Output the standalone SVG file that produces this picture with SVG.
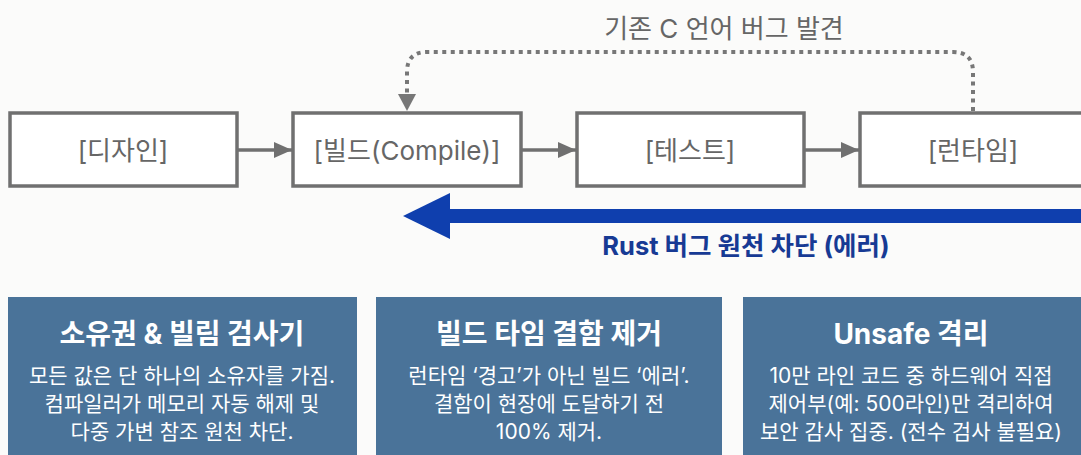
<svg xmlns="http://www.w3.org/2000/svg" width="1081" height="455" viewBox="0 0 1081 455">
<style>
.box{fill:#ffffff;stroke:#707070;stroke-width:3.5}
.lbl{font-family:"Inter","Noto Sans CJK KR",sans-serif;font-size:26px;fill:#666666;text-anchor:middle}
.conn{stroke:#707070;stroke-width:3.5;fill:none}
.dot{stroke:#777777;stroke-width:4;fill:none;stroke-dasharray:4 4.5}
.card{fill:#4a7399}
.ttl{font-family:"Inter","Noto Sans CJK KR",sans-serif;font-size:28px;font-weight:700;fill:#ffffff;text-anchor:middle}
.body{font-family:"Inter","Noto Sans CJK KR",sans-serif;font-size:21px;fill:#ffffff;text-anchor:middle}
.rust{font-family:"Inter","Noto Sans CJK KR",sans-serif;font-size:25.5px;font-weight:700;fill:#173a94;text-anchor:middle}
</style>
<defs>
<marker id="ah" markerUnits="userSpaceOnUse" markerWidth="20" markerHeight="18" refX="18" refY="8" orient="auto">
<path d="M0,0 L18,8 L0,16 Z" fill="#707070"/>
</marker>
</defs>
<rect width="1081" height="455" fill="#fbfbfa"/>

<g id="connectors">
<line class="conn" x1="238" y1="150" x2="292" y2="150" marker-end="url(#ah)"/>
<line class="conn" x1="522" y1="150" x2="576" y2="150" marker-end="url(#ah)"/>
<line class="conn" x1="805" y1="150" x2="859" y2="150" marker-end="url(#ah)"/>
<path class="dot" d="M973,111 V72 Q973,52 953,52 H427 Q407,52 407,72 V94"/>
<path d="M398,94 L416,94 L407,111 Z" fill="#777777"/>
<text class="lbl" x="724" y="38">기존 C 언어 버그 발견</text>
<g id="rust-arrow">
<rect x="446" y="209" width="640" height="14" fill="#0f3fae"/>
<path d="M403,216 L450,193 L450,239 Z" fill="#0f3fae"/>
<text class="rust" x="746" y="255">Rust 버그 원천 차단 (에러)</text>
</g>
</g>

<g id="node-design">
<rect class="box" x="10" y="113" width="227" height="73"/>
<text class="lbl" x="123" y="160">[디자인]</text>
</g>
<g id="node-build">
<rect class="box" x="293" y="113" width="228" height="73"/>
<text class="lbl" x="407" y="160">[빌드(Compile)]</text>
</g>
<g id="node-test">
<rect class="box" x="577" y="113" width="227" height="73"/>
<text class="lbl" x="690" y="160">[테스트]</text>
</g>
<g id="node-runtime">
<rect class="box" x="860" y="113" width="240" height="73"/>
<text class="lbl" x="973" y="160">[런타임]</text>
</g>

<g id="card-ownership">
<rect class="card" x="8" y="297" width="349" height="170"/>
<text class="ttl" x="182" y="344">소유권 &amp; 빌림 검사기</text>
<text class="body" x="182" y="383">모든 값은 단 하나의 소유자를 가짐.</text>
<text class="body" x="182" y="411">컴파일러가 메모리 자동 해제 및</text>
<text class="body" x="182" y="439">다중 가변 참조 원천 차단.</text>
</g>
<g id="card-build">
<rect class="card" x="376" y="297" width="346" height="170"/>
<text class="ttl" x="549" y="344">빌드 타임 결함 제거</text>
<text class="body" x="549" y="383">런타임 ‘경고’가 아닌 빌드 ‘에러’.</text>
<text class="body" x="549" y="411">결함이 현장에 도달하기 전</text>
<text class="body" x="549" y="439">100% 제거.</text>
</g>
<g id="card-unsafe">
<rect class="card" x="743" y="297" width="360" height="170"/>
<text class="ttl" x="911" y="344">Unsafe 격리</text>
<text class="body" x="911" y="383">10만 라인 코드 중 하드웨어 직접</text>
<text class="body" x="911" y="411">제어부(예: 500라인)만 격리하여</text>
<text class="body" x="911" y="439">보안 감사 집중. (전수 검사 불필요)</text>
</g>
</svg>
